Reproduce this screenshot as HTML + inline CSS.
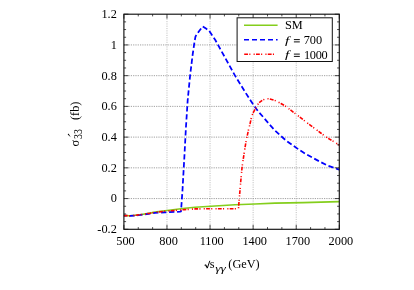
<!DOCTYPE html>
<html><head><meta charset="utf-8">
<style>
html,body{margin:0;padding:0;background:#fff;}
svg{display:block;will-change:transform}
text{font-family:"Liberation Serif",serif;font-size:12.3px;fill:#000}
</style></head><body>
<svg width="414" height="290" viewBox="0 0 414 290">
<rect width="414" height="290" fill="#fff"/>
<g stroke="#b0b0b0" stroke-width="0.8" stroke-dasharray="1.1 1.2" fill="none">
<line x1="166.98" y1="14.2" x2="166.98" y2="229.3"/><line x1="210.06" y1="14.2" x2="210.06" y2="229.3"/><line x1="253.14" y1="14.2" x2="253.14" y2="229.3"/><line x1="296.22" y1="14.2" x2="296.22" y2="229.3"/>
</g>
<g stroke="#888" stroke-width="0.8" stroke-dasharray="1.2 1.1" fill="none">
<line x1="123.9" y1="198.57" x2="339.3" y2="198.57"/><line x1="123.9" y1="167.84" x2="339.3" y2="167.84"/><line x1="123.9" y1="137.11" x2="339.3" y2="137.11"/><line x1="123.9" y1="106.39" x2="339.3" y2="106.39"/><line x1="123.9" y1="75.66" x2="339.3" y2="75.66"/><line x1="123.9" y1="44.93" x2="339.3" y2="44.93"/>
</g>
<g fill="none" stroke-linejoin="round">
<path d="M123.9 215.6 L130.0 215.7 L135.0 215.3 L140.0 214.7 L150.0 213.1 L155.0 212.1 L165.0 210.7 L175.0 209.5 L185.0 208.3 L195.0 207.2 L215.0 206.0 L235.0 204.8 L255.0 204.0 L275.0 203.1 L303.0 202.6 L339.3 201.6" stroke="#84ce1c" stroke-width="1.6"/>
<path d="M123.9 215.6 L130.0 215.9 L135.0 215.5 L140.0 215.0 L150.0 213.6 L155.0 212.9 L165.0 212.4 L180.0 211.7 L181.0 211.4 L181.6 203.0 L182.5 190.0 L184.2 160.0 L185.9 128.0 L187.7 100.0 L190.1 75.6 L192.6 55.0 L194.5 42.0 L195.5 36.4 L199.0 31.3 L202.7 26.5 L206.0 28.6 L209.0 30.6 L215.3 40.0 L225.0 57.5 L234.9 75.4 L245.1 92.0 L250.0 99.7 L253.9 105.5 L257.9 111.0 L264.2 118.2 L269.5 124.5 L274.8 130.3 L280.5 135.6 L286.3 140.7 L293.0 145.5 L299.3 149.9 L306.1 154.2 L313.3 158.1 L320.5 162.0 L327.2 165.4 L336.9 168.8 L339.3 169.6" stroke="#0000ff" stroke-width="1.75" stroke-dasharray="5.3 2.7" stroke-dashoffset="2.6"/>
<path d="M123.9 215.6 L130.0 215.7 L135.0 215.3 L140.0 214.7 L150.0 213.2 L155.0 212.3 L165.0 211.2 L175.0 210.4 L185.0 209.6 L195.0 208.9 L215.0 208.7 L238.5 208.8 L238.9 203.0 L239.6 195.0 L240.6 183.0 L242.1 167.0 L244.3 152.0 L246.3 140.0 L248.6 129.5 L250.0 124.0 L251.4 117.5 L252.9 113.2 L255.3 108.8 L258.7 103.0 L262.6 100.1 L265.0 99.1 L267.4 98.7 L269.8 98.9 L274.2 100.1 L280.9 103.5 L284.8 105.7 L289.6 109.3 L297.6 115.4 L307.2 122.9 L316.9 130.1 L320.7 133.0 L325.1 136.3 L328.0 138.2 L333.4 141.4 L339.3 145.1" stroke="#ff0000" stroke-width="1.6" stroke-dasharray="3.8 1.3 1.1 3.2 1.1 1.3"/>
</g>
<path d="M123.90 229.3v-4.5M123.90 14.2v4.5M138.26 229.3v-2.2M138.26 14.2v2.2M152.62 229.3v-2.2M152.62 14.2v2.2M166.98 229.3v-4.5M166.98 14.2v4.5M181.34 229.3v-2.2M181.34 14.2v2.2M195.70 229.3v-2.2M195.70 14.2v2.2M210.06 229.3v-4.5M210.06 14.2v4.5M224.42 229.3v-2.2M224.42 14.2v2.2M238.78 229.3v-2.2M238.78 14.2v2.2M253.14 229.3v-4.5M253.14 14.2v4.5M267.50 229.3v-2.2M267.50 14.2v2.2M281.86 229.3v-2.2M281.86 14.2v2.2M296.22 229.3v-4.5M296.22 14.2v4.5M310.58 229.3v-2.2M310.58 14.2v2.2M324.94 229.3v-2.2M324.94 14.2v2.2M339.30 229.3v-4.5M339.30 14.2v4.5M123.9 229.30h4.5M339.3 229.30h-4.5M123.9 221.62h2.2M339.3 221.62h-2.2M123.9 213.94h2.2M339.3 213.94h-2.2M123.9 206.25h2.2M339.3 206.25h-2.2M123.9 198.57h4.5M339.3 198.57h-4.5M123.9 190.89h2.2M339.3 190.89h-2.2M123.9 183.21h2.2M339.3 183.21h-2.2M123.9 175.52h2.2M339.3 175.52h-2.2M123.9 167.84h4.5M339.3 167.84h-4.5M123.9 160.16h2.2M339.3 160.16h-2.2M123.9 152.48h2.2M339.3 152.48h-2.2M123.9 144.80h2.2M339.3 144.80h-2.2M123.9 137.11h4.5M339.3 137.11h-4.5M123.9 129.43h2.2M339.3 129.43h-2.2M123.9 121.75h2.2M339.3 121.75h-2.2M123.9 114.07h2.2M339.3 114.07h-2.2M123.9 106.39h4.5M339.3 106.39h-4.5M123.9 98.70h2.2M339.3 98.70h-2.2M123.9 91.02h2.2M339.3 91.02h-2.2M123.9 83.34h2.2M339.3 83.34h-2.2M123.9 75.66h4.5M339.3 75.66h-4.5M123.9 67.97h2.2M339.3 67.97h-2.2M123.9 60.29h2.2M339.3 60.29h-2.2M123.9 52.61h2.2M339.3 52.61h-2.2M123.9 44.93h4.5M339.3 44.93h-4.5M123.9 37.25h2.2M339.3 37.25h-2.2M123.9 29.56h2.2M339.3 29.56h-2.2M123.9 21.88h2.2M339.3 21.88h-2.2M123.9 14.20h4.5M339.3 14.20h-4.5" stroke="#111" stroke-width="0.75" fill="none"/>
<rect x="123.9" y="14.2" width="215.4" height="215.10000000000002" fill="none" stroke="#111" stroke-width="1.15"/>
<!-- legend -->
<rect x="237.1" y="17.8" width="95.2" height="43.7" fill="#fff" stroke="#111" stroke-width="1"/>
<line x1="244" y1="25.2" x2="277.6" y2="25.2" stroke="#84ce1c" stroke-width="1.4"/>
<line x1="244" y1="39.8" x2="277.6" y2="39.8" stroke="#0000ff" stroke-width="1.6" stroke-dasharray="5 3"/>
<line x1="244.2" y1="54.2" x2="275.2" y2="54.2" stroke="#ff0000" stroke-width="1.5" stroke-dasharray="3.8 1.3 1.1 3.2 1.1 1.3"/>
<text x="284.9" y="29.2" font-size="11.9px">SM</text>
<text transform="translate(285.1,43.6) scale(1.25,0.89)" font-style="italic">f</text><path d="M293.9 39.6h5.9M293.9 41.9h5.9" stroke="#000" stroke-width="0.95" fill="none"/><text x="303.7" y="44.0" letter-spacing="0">700</text>
<text transform="translate(285.1,58.1) scale(1.25,0.89)" font-style="italic">f</text><path d="M293.9 54.1h5.9M293.9 56.4h5.9" stroke="#000" stroke-width="0.95" fill="none"/><text x="304.0" y="58.5" letter-spacing="-0.3">1000</text>
<!-- y labels -->
<g text-anchor="end">
<text x="116.8" y="18.0">1.2</text>
<text x="116.8" y="48.7">1</text>
<text x="116.8" y="79.5">0.8</text>
<text x="116.8" y="110.2">0.6</text>
<text x="116.8" y="140.9">0.4</text>
<text x="116.8" y="171.6">0.2</text>
<text x="116.8" y="202.4">0</text>
<text x="116.8" y="233.1">-0.2</text>
</g>
<g text-anchor="middle">
<text x="125.5" y="245.2">500</text>
<text x="168.6" y="245.2">800</text>
<text x="211.7" y="245.2">1100</text>
<text x="254.7" y="245.2">1400</text>
<text x="297.8" y="245.2">1700</text>
<text x="340.9" y="245.2">2000</text>
</g>
<path d="M204.4 265.3l1.2 -0.7" fill="none" stroke="#000" stroke-width="0.7"/><path d="M205.5 264.7l1.9 3.3" fill="none" stroke="#000" stroke-width="1.3"/><path d="M207.3 268.2l2.5 -7.4" fill="none" stroke="#000" stroke-width="0.95"/>
<text x="209.8" y="268.1" font-size="12px">s</text>
<text transform="translate(215.2,271.6) scale(1.09,0.9)" font-size="9.5px" font-style="italic">γγ</text>
<text x="228.3" y="268.1" font-size="11.8px">(GeV)</text>
<g transform="translate(78.6,146.8) rotate(-90)">
<text x="0.4" y="0" font-size="13px">σ</text>
<path d="M9.6 -7.8L12.2 -10.9L13.3 -10.1Z" fill="#000"/>
<text transform="translate(7.8,3.0) scale(0.8,1)" font-size="8.8px">33</text>
<text x="26.8" y="0" font-size="11.7px">(fb)</text>
</g>
</svg>
</body></html>
